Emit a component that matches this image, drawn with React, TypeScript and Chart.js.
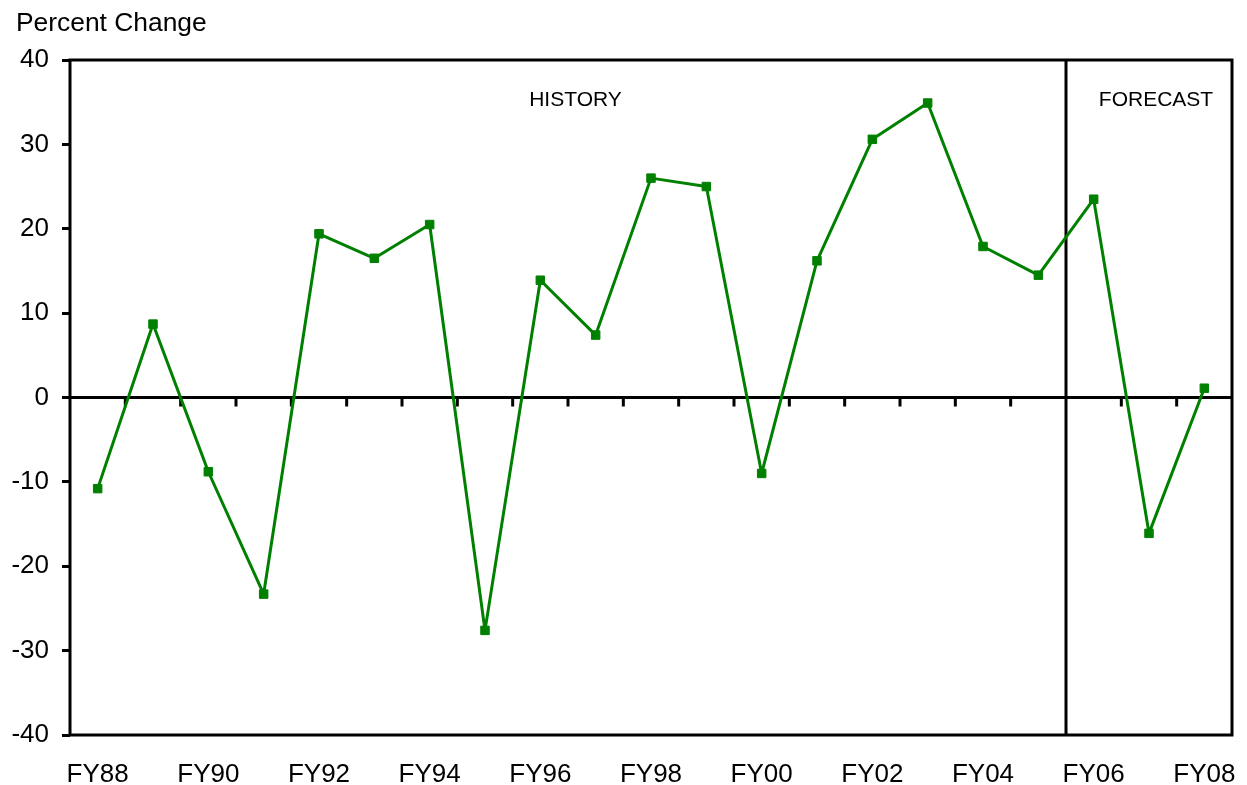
import React, { useEffect, useRef } from "react";
import { Chart, registerables } from "chart.js";

Chart.register(...registerables);

const categories = [
  "FY88", "FY89", "FY90", "FY91", "FY92", "FY93", "FY94", "FY95", "FY96", "FY97", "FY98",
  "FY99", "FY00", "FY01", "FY02", "FY03", "FY04", "FY05", "FY06", "FY07", "FY08",
];
const percentChange = [
  -10.8, 8.7, -8.8, -23.3, 19.4, 16.5, 20.5, -27.6, 13.9, 7.4, 26.0,
  25.0, -9.0, 16.2, 30.6, 34.9, 17.9, 14.5, 23.5, -16.1, 1.1,
];
const yTicks = [-40, -30, -20, -10, 0, 10, 20, 30, 40];
const forecastStart = "FY06";
const yAxisTitle = "Percent Change";
const historyLabel = "HISTORY";
const forecastLabel = "FORECAST";

const FONT = '"Liberation Sans", Arial, Helvetica, sans-serif';
const GREEN = "#008000";

const decorPlugin = {
  id: "decor",
  beforeDatasetsDraw(chart: any) {
    const { ctx, chartArea: a, scales } = chart;
    const x = scales.x;
    const y = scales.y;
    ctx.save();
    ctx.strokeStyle = "#000";
    ctx.lineWidth = 3;
    const y0 = y.getPixelForValue(0);
    ctx.beginPath();
    ctx.moveTo(a.left, y0);
    ctx.lineTo(a.right, y0);
    for (let i = 1; i < categories.length; i++) {
      const bx = (x.getPixelForValue(i - 1) + x.getPixelForValue(i)) / 2;
      ctx.moveTo(bx, y0);
      ctx.lineTo(bx, y0 + 9);
    }
    const fi = categories.indexOf(forecastStart);
    const dx = (x.getPixelForValue(fi - 1) + x.getPixelForValue(fi)) / 2;
    ctx.moveTo(dx, a.top);
    ctx.lineTo(dx, a.bottom);
    ctx.stroke();
    ctx.strokeRect(a.left, a.top, a.right - a.left, a.bottom - a.top);

    ctx.fillStyle = "#000";
    ctx.textBaseline = "alphabetic";
    ctx.textAlign = "center";
    ctx.font = `21px ${FONT}`;
    ctx.fillText(historyLabel, 575.5, 105.5);
    ctx.fillText(forecastLabel, 1156, 106);
    ctx.textAlign = "left";
    ctx.font = `26.4px ${FONT}`;
    ctx.fillText(yAxisTitle, 16, 31);
    ctx.restore();
  },
};

export default function App() {
  const ref = useRef<HTMLCanvasElement>(null);
  useEffect(() => {
    if (!ref.current) return;
    const chart = new Chart(ref.current, {
      type: "line",
      data: {
        labels: categories,
        datasets: [
          {
            data: percentChange,
            borderColor: GREEN,
            backgroundColor: GREEN,
            borderWidth: 3,
            borderJoinStyle: "round",
            pointStyle: "rect",
            pointRadius: 6,
            pointBorderWidth: 1,
            pointBackgroundColor: GREEN,
            pointBorderColor: GREEN,
            tension: 0,
          },
        ],
      },
      options: {
        animation: false,
        responsive: true,
        maintainAspectRatio: false,
        layout: { padding: { top: 60, right: 15, left: 0, bottom: 0 } },
        plugins: {
          legend: { display: false },
          tooltip: { enabled: false },
          title: { display: false },
        },
        scales: {
          x: {
            type: "category",
            offset: true,
            grid: { display: false, drawTicks: false },
            border: { display: false },
            ticks: {
              autoSkip: false,
              maxRotation: 0,
              minRotation: 0,
              color: "#000",
              padding: 24,
              font: { family: FONT, size: 26 },
              callback: (_v: any, i: number) => (i % 2 === 0 ? categories[i] : ""),
            },
            afterFit: (s: any) => {
              s.height = 50;
              s.paddingLeft = 0;
              s.paddingRight = 0;
            },
          },
          y: {
            min: yTicks[0],
            max: yTicks[yTicks.length - 1],
            grid: {
              drawOnChartArea: false,
              drawTicks: true,
              tickLength: 8,
              color: "#000",
              lineWidth: 3,
            },
            border: { display: false },
            ticks: {
              stepSize: 10,
              color: "#000",
              padding: 13,
              font: { family: FONT, size: 26 },
            },
            afterBuildTicks: (s: any) => {
              s.ticks = yTicks.map((v) => ({ value: v }));
            },
            afterFit: (s: any) => {
              s.width = 70;
            },
          },
        },
      },
      plugins: [decorPlugin],
    });
    return () => chart.destroy();
  }, []);

  return (
    <div style={{ position: "absolute", left: 0, top: 0, width: 1247, height: 785, background: "#fff" }}>
      <canvas ref={ref} />
    </div>
  );
}
